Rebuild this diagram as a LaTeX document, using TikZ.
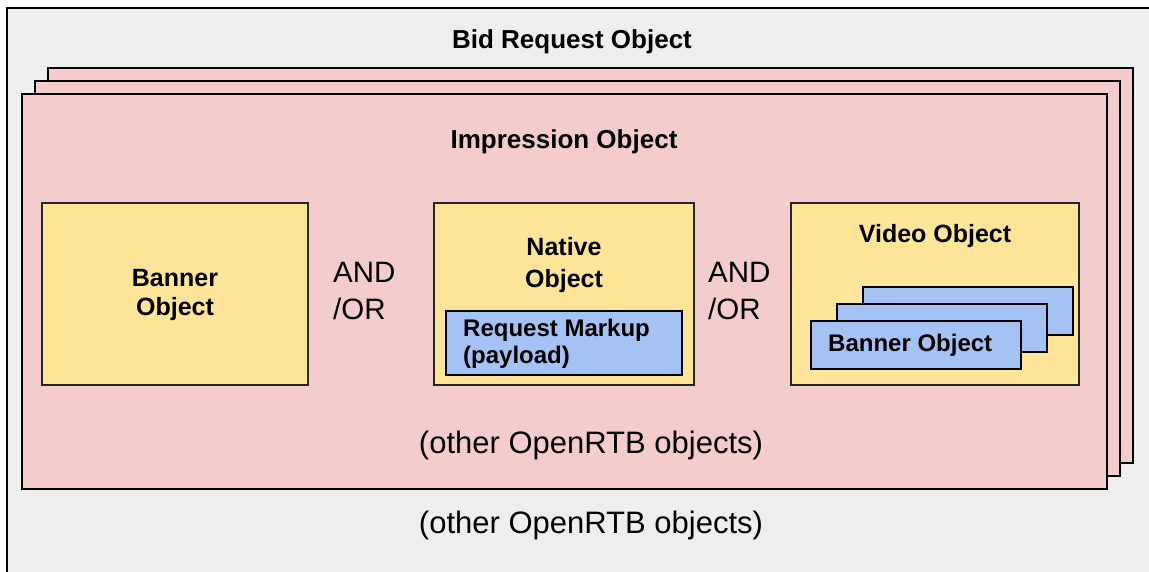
\documentclass[tikz,border=0pt]{standalone}
\usepackage{fontspec}
\setmainfont{Liberation Sans}
\usetikzlibrary{positioning}
\definecolor{reqgray}{HTML}{EEEEEE}
\definecolor{imppink}{HTML}{F4CCCC}
\definecolor{objyellow}{HTML}{FFE599}
\definecolor{markblue}{HTML}{A4C2F4}
\tikzset{outerbox/.style={draw=black, line width=2.4pt, fill=reqgray},
         card/.style={draw=black, line width=2.6pt, fill=imppink},
         objbox/.style={draw=black!85, line width=1.5pt, fill=objyellow},
         bluebox/.style={draw=black, line width=2.4pt, fill=markblue},
         title/.style={inner sep=0pt, font=\fontsize{26}{30}\selectfont\bfseries},
         boldtext/.style={inner sep=0pt, font=\fontsize{25}{29}\selectfont\bfseries},
         regtext/.style={inner sep=0pt, font=\fontsize{29.5}{37}\selectfont}}

\begin{document}
\begin{tikzpicture}[x=1pt, y=-1pt]
   \useasboundingbox (0,0) rectangle (1149,571);
   \clip (0,0) rectangle (1149,571);
   \draw[outerbox] (7,8) rectangle (1175,595);
   \node[title] (bidreq) at (572,41.4) {Bid Request Object};
   \foreach \d in {2,1,0}
     \draw[card] (22+13*\d,94-13*\d) rectangle (1107+13*\d,489-13*\d);
   \node[title] (imp) at (564,141.4) {Impression Object};
   \begin{scope}
    \draw[objbox] (42,203) rectangle (308,385);
    \node[boldtext, align=center] (banner) at (175,295) {Banner\\Object};
   \end{scope}
   \node[regtext, align=left, anchor=west] (andor1) at (333,291.2) {AND\\/OR};
   \begin{scope}
    \draw[objbox] (434,203) rectangle (694,385);
    \node[boldtext, align=center, font=\fontsize{25}{32}\selectfont\bfseries] (native) at (564,264.7) {Native\\Object};
    \draw[bluebox] (446,311) rectangle (682,375);
    \node[boldtext, align=left, anchor=west, font=\fontsize{24}{27}\selectfont\bfseries] (markup) at (463,344.2) {Request Markup\\(payload)};
   \end{scope}
   \node[regtext, align=left, anchor=west] (andor2) at (708,291.2) {AND\\/OR};
   \begin{scope}
    \draw[objbox] (791,203) rectangle (1079,385);
    \node[boldtext] (video) at (935,235.7) {Video Object};
    \foreach \d in {2,1,0}
      \draw[bluebox] (811+26*\d,321-17*\d) rectangle ++(210,48);
    \node[boldtext, anchor=west, font=\fontsize{24}{27}\selectfont\bfseries] (vbanner) at (828,345.7) {Banner Object};
   \end{scope}
   \node[regtext, font=\fontsize{31}{37}\selectfont] (impother) at (591,445.3) {(other OpenRTB objects)};
   \node[regtext, font=\fontsize{31}{37}\selectfont] (bidother) at (591,525.3) {(other OpenRTB objects)};
\end{tikzpicture}
\end{document}
